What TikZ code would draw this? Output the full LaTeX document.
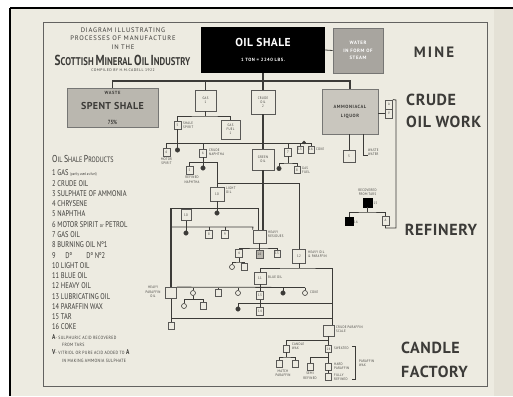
\documentclass[tikz,border=0pt]{standalone}
\usepackage{fontspec}
\setmainfont{PT Sans}
\newfontfamily\cf{PT Sans}[FakeStretch=0.78]
\newfontfamily\cfs{PT Sans}[FakeStretch=0.85,LetterSpace=8]
\newfontfamily\spf{PT Sans}[LetterSpace=12]
\newfontfamily\bigf{PT Sans}[LetterSpace=4]
\newcommand\upL[1]{{\fontsize{14.5}{14.5}\selectfont #1}}
\newcommand\upM[1]{{\fontsize{11.2}{11.2}\selectfont #1}}
\newcommand\lgL[1]{{\fontsize{10}{10}\selectfont #1}}
\definecolor{bg}{HTML}{EDEBE1}
\definecolor{bgr}{HTML}{E4E1D6}
\definecolor{lc}{HTML}{3C3B38}
\definecolor{gf}{HTML}{BAB7AF}
\definecolor{gfl}{HTML}{C9C6BE}
\definecolor{gfw}{HTML}{A8A59F}
\tikzset{
  ln/.style={draw=lc, line width=0.8pt},
  ln2/.style={draw=lc, line width=1.3pt},
  busl/.style={draw=lc, line width=1.5pt},
  thk/.style={draw=lc, line width=2.3pt},
  bx/.style={draw=lc!85, line width=0.8pt, fill=bg, inner sep=0pt, align=center, text=lc,
     font=\cfs\fontsize{3.6}{4.2}\selectfont},
  nb/.style={bx, minimum width=7pt, minimum height=8pt},
  sb/.style={bx, minimum width=6pt, minimum height=7pt},
  gbox/.style={draw=lc!70, line width=0.8pt, fill=gf, inner sep=0pt, align=center},
  lbl/.style={inner sep=0pt, align=left, text=lc, font=\cfs\fontsize{3.6}{4.3}\selectfont},
  dotn/.style={circle, fill=lc, draw=lc, inner sep=0pt, minimum size=4.5pt},
  ring/.style={circle, draw=lc, line width=0.6pt, fill=bg, inner sep=0pt, minimum size=5pt},
  blk/.style={fill=black, draw=black, inner sep=0pt},
  big/.style={inner sep=0pt, text=lc, font=\bigf\bfseries\fontsize{16}{16}\selectfont},
  lg/.style={inner sep=0pt, anchor=west, text=lc, font=\cf\fontsize{8.3}{8.3}\selectfont},
  lgs/.style={inner sep=0pt, anchor=west, text=lc, font=\cfs\fontsize{4.6}{4.6}\selectfont},
  ttl/.style={inner sep=0pt, text=lc, font=\spf\fontsize{6.6}{6.6}\selectfont},
}
\begin{document}
\begin{tikzpicture}[x=1pt,y=-1pt]
\useasboundingbox (0,0) rectangle (513,396);
\fill[white] (0,0) rectangle (513,396);
\fill[bg] (10,8) rectangle (513,396);
\fill[bgr] (494,8) rectangle (513,396);
\draw[black, line width=1.6pt] (10,8) -- (513,8);
\draw[black, line width=1.6pt] (10,8) -- (10,396);
\draw[lc!80, line width=0.8pt] (43,22) rectangle (487,386);

% ---------- title ----------
\node[ttl] (tt1) at (123,30) {DIAGRAM ILLUSTRATING};
\node[ttl] (tt2) at (123,38.5) {PROCESSES OF MANUFACTURE};
\node[ttl] (tt3) at (123,47) {IN THE};
\node[inner sep=0pt, text=lc, font=\cf\bfseries] (tt4) at (122.5,60)
  {\upL{S}\upM{COTTISH} \upL{M}\upM{INERAL} \upL{O}\upM{IL} \upL{I}\upM{NDUSTRY}};
\node[inner sep=0pt, text=lc, font=\spf\fontsize{3.8}{3.8}\selectfont] (tt5) at (123,70.5) {COMPILED BY H.M.CADELL 1922};

% ---------- right labels ----------
\node[big, font=\bigf\bfseries\fontsize{15}{15}\addfontfeature{LetterSpace=14}\selectfont] (mine) at (434,52) {MINE};
\node[big, anchor=west] (cow1) at (406,100) {CRUDE};
\node[big, anchor=west] (cow2) at (406,122) {OIL WORK};
\node[big] (refin) at (441,230) {REFINERY};
\node[big, anchor=west] (cf1) at (401,348) {CANDLE};
\node[big, anchor=west] (cf2) at (401,372) {FACTORY};

% ---------- top boxes ----------
\node[fill=black, minimum width=124pt, minimum height=46pt, inner sep=0pt, text=white, align=center] (shale) at (263,50)
  {{\bigf\bfseries\fontsize{11.5}{11.5}\selectfont OIL SHALE}\\[3pt]{\spf\bfseries\fontsize{4.6}{4.6}\selectfont 1 TON = 2240 LBS.}};
\node[gbox, fill=gfw, minimum width=50pt, minimum height=45pt, text=white,
  font=\spf\bfseries\fontsize{4.8}{7.5}\selectfont] (water) at (358,50.5) {WATER\\IN FORM OF\\STEAM};
\node[gbox, minimum width=91pt, minimum height=39pt, text=lc] (spent) at (112.5,107.5)
  {{\spf\bfseries\fontsize{4.5}{4.5}\selectfont WASTE}\\[3pt]{\bigf\bfseries\fontsize{10}{10}\selectfont SPENT SHALE}\\[3pt]{\cf\bfseries\fontsize{6}{6}\selectfont 75\%}};
\node[gbox, fill=gfl, minimum width=56pt, minimum height=45pt, text=lc,
  font=\spf\bfseries\fontsize{4.6}{9}\selectfont] (ammon) at (350,111.5) {AMMONIACAL\\LIQUOR};
\node[bx, minimum width=21pt, minimum height=21pt] (gas) at (205.5,100.5) {GAS\\1};
\node[bx, minimum width=24pt, minimum height=24pt] (crude) at (263,102) {CRUDE\\OIL\\2};

\coordinate (b1r) at (350,81);
\draw[ln] (shale.east) -- (water.west);
\draw[busl] (spent.north) |- (b1r) -- (ammon.north);
\draw[ln] (gas.north) -- (gas.north |- b1r);
\draw[thk] (shale.south) -- (crude.north);

% ---------- gas branch ----------
\coordinate (g1) at (205.5,116);
\node[nb] (s5) at (177.5,125) {5};
\node[lbl, anchor=west] (s5l) at (183,125) {SHALE\\SPIRIT};
\node[bx, minimum width=19pt, minimum height=19pt] (gfu) at (230.5,129.5) {GAS\\FUEL\\1};
\draw[ln] (gas.south) -- (g1);
\draw[ln] (s5.north) |- (g1) -| (gfu.north);

% ---------- bus y=143 ----------
\coordinate (b2l) at (166.5,143);
\coordinate (b2r) at (311,143);
\draw[ln] (b2l) -- (b2r);
\node[nb] (ms6) at (166.5,152) {6};
\node[lbl, align=center, anchor=north] (ms6l) at (166.5,157.5) {MOTOR\\SPIRIT};
\draw[ln] (b2l) -- (ms6.north);
\node[dotn] (d1) at (177.5,150) {};
\draw[ln] (s5.south) -- (d1);
\node[nb] (cn6) at (203,153) {6};
\node[lbl, anchor=west] (cn6l) at (209,152) {CRUDE\\NAPHTHA};
\draw[ln] (cn6.north) -- (cn6.north |- b2l);
\node[bx, minimum width=22pt, minimum height=21pt] (up) at (263,159.5) {GREEN\\OIL};
\draw[thk] (crude.south) -- (up.north);
\node[nb] (g7) at (288,152) {7};
\draw[ln] (g7.north) -- (g7.north |- b2l);
\node[sb] (k15) at (300,149.5) {15};
\node[sb] (k16) at (311,149.5) {16};
\node[lbl, anchor=west] (k16l) at (316,149.5) {COKE};
\draw[ln] (k15.north) -- (k15.north |- b2l);
\draw[ln] (k16.north) -- (b2r);
\node[dotn, minimum size=3pt] (d0) at (304,142.5) {};

% gas oil sub
\coordinate (j7a) at (288,163);
\node[dotn] (d3) at (279,168.5) {};
\node[sb] (b8) at (297,170) {8};
\node[lbl, anchor=west] (b8l) at (302,170) {GAS\\FUEL};
\draw[ln] (g7.south) -- (j7a);
\draw[ln] (d3.north) |- (j7a) -| (b8.north);

% naphtha sub
\coordinate (j3) at (203,162);
\coordinate (j4) at (217,162);
\coordinate (j5) at (217,183);
\coordinate (j6) at (299,183);
\node[nb] (rn5) at (189.5,170.5) {5};
\node[lbl, align=center, anchor=north] (rn5l) at (192,176) {REFINED\\NAPHTHA};
\node[dotn] (d2) at (203,168) {};
\draw[ln] (cn6.south) -- (d2);
\draw[ln] (rn5.north) |- (j4) -- (j5) -- (j6);
\node[bx, minimum width=14pt, minimum height=14pt] (lo) at (217,194) {10};
\node[lbl, anchor=west] (lol) at (226,190) {LIGHT\\OIL};
\draw[ln] (j5) -- (lo.north);
\node[bx, minimum width=13pt, minimum height=14pt] (ho) at (299,256) {12};
\node[lbl, anchor=west] (hol) at (308,254) {HEAVY OIL\\\& PARAFFIN};
\draw[ln] (j6) -- (ho.north);

% light oil sub
\node[bx, minimum width=13pt, minimum height=13pt] (hr) at (259.5,236.5) {};
\node[lbl, anchor=west] (hrl) at (268,234) {HEAVY\\RESIDUES};
\coordinate (k1) at (171,208);
\coordinate (k2) at (258,208);
\node[dotn] (d4) at (217,213) {};
\draw[ln] (lo.south) -- (d4);
\draw[ln] (k1) -- (k2) -- (k2 |- hr.north);
\node[bx, minimum width=10pt, minimum height=11pt] (b10) at (186,215) {10};
\draw[ln] (b10.north) -- (b10.north |- k1);
\coordinate (m1) at (171,227);
\coordinate (m2) at (253,227);
\node[dotn] (d5) at (186,233) {};
\draw[ln] (b10.south) -- (d5);
\node[nb] (b8b) at (209,234) {8};
\node[nb] (b9) at (225,234) {9};
\draw[ln] (b8b.north) -- (b8b.north |- m1);
\draw[ln] (b9.north) -- (b9.north |- m1);
\draw[ln] (m1) -- (m2) -- (hr.north west);
\draw[thk] (up.south) -- (up.south |- hr.north);
\node[bx, minimum width=11pt, minimum height=11pt] (lpo) at (171,293) {};
\node[lbl, align=center] (lpol) at (153,292) {HEAVY\\PARAFFIN\\OIL};
\draw[ln2] (k1) -- (lpo.north);

% heavy residues sub
\coordinate (h1) at (259.5,248);
\node[nb] (c4) at (239,253.5) {4};
\node[nb, fill=gf] (c16) at (259.5,254) {16};
\node[sb] (c15) at (277,253.5) {15};
\draw[ln] (hr.south) -- (c16.north);
\draw[ln] (c4.north) |- (h1) -| (c15.north);
\coordinate (h2) at (239,262);
\node[ring] (r1) at (232,267) {};
\node[sb] (c4b) at (244,267) {};
\draw[ln] (c4.south) -- (h2);
\draw[ln] (r1.north) |- (h2) -| (c4b.north);

% heavy oil sub
\coordinate (p1) at (299,268);
\coordinate (pR) at (332,268);
\node[bx, minimum width=12pt, minimum height=12pt] (bo) at (260,278) {11};
\node[lbl, anchor=west] (bol) at (268,277) {BLUE OIL};
\node[bx, minimum width=11pt, minimum height=11pt] (cps) at (328.5,330.5) {};
\node[lbl, anchor=west] (cpsl) at (336,329) {CRUDE PARAFFIN\\SCALE};
\draw[ln] (ho.south) -- (p1);
\draw[ln] (bo.north) |- (p1) -- (pR) -- (pR |- cps.north);

% blue oil sub
\coordinate (qR) at (305,287.5);
\draw[ln] (lpo.north east) -- (qR);
\node[ring] (r2) at (193,293) {};
\node[sb] (c9) at (218,293) {};
\node[ring] (r3) at (238,293) {};
\node[nb] (c13) at (260,295.5) {13};
\node[dotn] (d6) at (283,293) {};
\node[ring] (r4) at (305,293) {};
\node[lbl, anchor=west] (r4l) at (310,292) {COKE};
\draw[ln] (r2.north) -- (r2.north |- qR);
\draw[ln] (c9.north) -- (c9.north |- qR);
\draw[ln] (r3.north) -- (r3.north |- qR);
\draw[ln] (bo.south) -- (c13.north);
\draw[ln] (d6.north) -- (d6.north |- qR);
\draw[ln] (r4.north) -- (qR);
\coordinate (r2j) at (193,299.5);
\node[ring] (r5) at (184,306) {};
\node[sb] (c5b) at (203,306) {};
\draw[ln] (r2.south) -- (r2j);
\draw[ln] (r5.north) |- (r2j) -| (c5b.north);
\node[nb] (c14) at (260,311.5) {14};
\draw[ln] (c13.south) -- (c14.north);
\coordinate (s1) at (238,303);
\coordinate (s2) at (332,303);
\node[dotn] (d7) at (238,309) {};
\draw[ln] (d7.north) -- (s1) -- (s2);
\coordinate (t1) at (171,318);
\coordinate (t2) at (332,318);
\node[sb] (c7b) at (171,325.5) {};
\draw[ln] (lpo.south) -- (c7b.north);
\draw[ln] (t1) -- (t2);

% candle factory
\coordinate (u1) at (328.5,340);
\node[sb] (sw) at (286.5,348.5) {};
\node[lbl, anchor=west] (swl) at (292,346) {CANDLE\\WAX};
\node[sb] (c14b) at (328.5,349) {14};
\node[lbl, anchor=west] (c14bl) at (334,348) {SWEATED};
\draw[ln] (cps.south) -- (u1);
\draw[ln] (sw.north) |- (u1) -- (c14b.north);
\coordinate (v1) at (328.5,357);
\node[sb] (rf) at (310,366.5) {};
\node[lbl, align=center, anchor=north] (rfl) at (310,372) {SEMI\\REFINED};
\node[sb] (sr) at (328.5,366.5) {};
\node[sb] (fr) at (328.5,376.5) {};
\node[lbl, anchor=west] (srl) at (334,366) {HARD\\PARAFFIN};
\node[lbl, anchor=west] (frl) at (334,377) {FULLY\\REFINED};
\draw[ln] (c14b.south) -- (sr.north);
\draw[ln] (rf.north) |- (v1);
\draw[ln] (sr.south) -- (fr.north);
\coordinate (w1) at (286.5,357);
\node[sb] (mp) at (279.5,363.5) {};
\node[sb] (mp2) at (295,363.5) {};
\node[lbl, align=center, anchor=north] (mpl) at (283,369.5) {MATCH\\PARAFFIN};
\draw[ln] (sw.south) -- (w1);
\draw[ln] (mp.north) |- (w1) -| (mp2.north);
\coordinate (br1) at (355,346);
\coordinate (br2) at (355,379);
\draw[ln] (352,346) -- (br1) -- (br2) -- (352,379);
\node[lbl, anchor=west] (pwl) at (359,363) {PARAFFIN\\WAX};

% ammonia side
\node[nb, minimum height=9pt] (avA) at (389,104.5) {A};
\node[nb, minimum height=9pt] (avV) at (389,113.5) {V};
\draw[ln] (avV.west -| ammon.east) -- (avV.west);
\coordinate (rv1) at (396,100);
\coordinate (rv2) at (396,228);
\node[nb, minimum height=9pt] (abox) at (385.5,220.5) {A};
\draw[ln] (avA.north east) -- (rv1) -- (rv2) -| (abox.south);
\node[lbl, align=center] (rtl) at (367.5,192) {RECOVERED\\FROM TARS};
\node[blk, minimum size=9pt] (k15b) at (367.5,202.5) {};
\node[lbl, anchor=west] (k15bl) at (373.5,203) {15};
\coordinate (x1) at (367.5,212);
\node[blk, minimum size=8pt] (k16b) at (349,221) {};
\node[lbl, anchor=west] (k16bl) at (354,222) {16};
\draw[ln] (k15b.south) -- (x1);
\draw[ln] (k16b.north) |- (x1) -| (abox.north);
\node[bx, minimum width=12pt, minimum height=12pt] (b3) at (349,156) {3};
\draw[ln] (b3.north |- ammon.south) -- (b3.north);
\coordinate (ww) at (363,155);
\node[lbl, anchor=west] (wwl) at (368,152) {WASTE\\WATER};
\draw[ln] (ww |- ammon.south) -- (ww) -- (wwl.west |- ww);

% ---------- legend ----------
\node[lg, font=\cf\fontsize{7.8}{7.8}\selectfont] (lgt) at (52,159) {\lgL{O}IL \lgL{S}HALE \lgL{P}RODUCTS};
\foreach \n/\txt [count=\i] in {
  1/{GAS {\fontsize{4}{4}\selectfont (partly used as fuel)}},
  2/CRUDE OIL, 3/SULPHATE OF AMMONIA, 4/CHRYSENE, 5/NAPHTHA,
  6/{MOTOR SPIRIT {\fontsize{5.5}{5.5}\selectfont or} PETROL}, 7/GAS OIL, 8/BURNING OIL Nº1,
  9/{\hspace{8pt}Dº\hspace{14pt}Dº Nº2}, 10/LIGHT OIL, 11/BLUE OIL, 12/HEAVY OIL,
  13/LUBRICATING OIL, 14/PARAFFIN WAX, 15/TAR, 16/COKE}
  \node[lg] (lg\i) at (52,{173+(\i-1)*10.27}) {\n\ \txt};
\node[lgs] (la1) at (52,337) {{\cf\bfseries\fontsize{7}{7}\selectfont A}- SULPHURIC ACID RECOVERED};
\node[lgs] (la2) at (62,345) {FROM TARS};
\node[lgs] (lv1) at (52,352.5) {{\cf\bfseries\fontsize{7}{7}\selectfont V}- VITRIOL OR PURE ACID ADDED TO {\cf\bfseries\fontsize{7}{7}\selectfont A}};
\node[lgs] (lv2) at (62,361) {IN MAKING AMMONIA SULPHATE};
\end{tikzpicture}
\end{document}
